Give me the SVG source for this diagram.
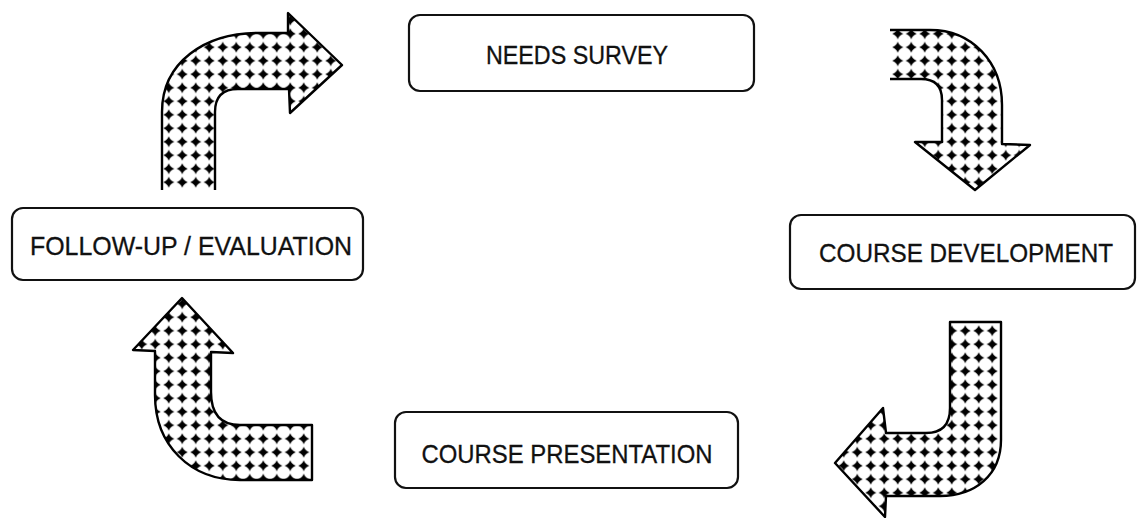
<svg xmlns="http://www.w3.org/2000/svg" width="1137" height="518" viewBox="0 0 1137 518">
<style>
.box{fill:#fff;stroke:#111;stroke-width:2.2}
.lbl{font-family:"Liberation Sans",Arial,sans-serif;font-size:26px;fill:#111;text-anchor:middle;stroke:#111;stroke-width:0.3}
.fill{fill:url(#dots);stroke:none}
.edge{fill:none;stroke:#000;stroke-width:2.4;stroke-linejoin:round}
</style>
<defs>
<pattern id="dots" patternUnits="userSpaceOnUse" width="13.5" height="13.5">
<rect width="13.5" height="13.5" fill="#fff"/>
<path d="M6.75,1.2 Q8.2,5.3 12.3,6.75 Q8.2,8.2 6.75,12.3 Q5.3,8.2 1.2,6.75 Q5.3,5.3 6.75,1.2 Z" fill="#000"/>
</pattern>
</defs>
<rect width="1137" height="518" fill="#fff"/>
<g id="connectors">
<g id="arrow-top-left">
<path class="fill" d="M162,190 L162,112 C162,62 205,33 258,33 L288,33 L288,13 L342,65 L290,113 L289,89 L238,89 Q215,89 215,112 L215,190 Z"/>
<path class="edge" d="M215,190 L215,112 Q215,89 238,89 L289,89 L290,113 L342,65 L288,13 L288,33 L258,33 C205,33 162,62 162,112 L162,190"/>
</g>
<g id="arrow-top-right">
<path class="fill" d="M890,30 L930,30 C972,30 1002,62 1002,105 L1002,144 L1030,145 L975,190 L915,142 L942,142 L942,100 Q942,79 921,79 L890,79 Z"/>
<path class="edge" d="M890,30 L930,30 C972,30 1002,62 1002,105 L1002,144 L1030,145 L975,190 L915,142 L942,142 L942,100 Q942,79 921,79 L890,79"/>
</g>
<g id="arrow-bottom-right">
<path class="fill" d="M950,322 L1001,322 L1001,440 C1001,475 975,496 940,496 L886,496 L885,517 L835,463 L883,408 L886,433 L926,433 Q950,433 950,408 Z"/>
<path class="edge" d="M950,322 L1001,322 L1001,440 C1001,475 975,496 940,496 L886,496 L885,517 L835,463 L883,408 L886,433 L926,433 Q950,433 950,408 Z"/>
</g>
<g id="arrow-bottom-left">
<path class="fill" d="M182,298 L233,353 L211,352 L211,392 Q211,425 240,425 L312,425 L312,480 L240,480 C190,480 155,445 155,395 L155,351 L133,350 Z"/>
<path class="edge" d="M182,298 L233,353 L211,352 L211,392 Q211,425 240,425 L312,425 L312,480 L240,480 C190,480 155,445 155,395 L155,351 L133,350 Z"/>
</g>
</g>
<g id="node-needs-survey">
<rect class="box" x="409" y="15" width="345" height="76" rx="11"/>
<text class="lbl" x="577" y="64" textLength="182" lengthAdjust="spacingAndGlyphs">NEEDS SURVEY</text>
</g>
<g id="node-course-development">
<rect class="box" x="790" y="215" width="345" height="74" rx="11"/>
<text class="lbl" x="966" y="262" textLength="294" lengthAdjust="spacingAndGlyphs">COURSE DEVELOPMENT</text>
</g>
<g id="node-course-presentation">
<rect class="box" x="395" y="412" width="343" height="76" rx="11"/>
<text class="lbl" x="567" y="463" textLength="291" lengthAdjust="spacingAndGlyphs">COURSE PRESENTATION</text>
</g>
<g id="node-follow-up">
<rect class="box" x="12" y="208" width="351" height="72" rx="11"/>
<text class="lbl" x="191" y="255" textLength="322" lengthAdjust="spacingAndGlyphs">FOLLOW-UP / EVALUATION</text>
</g>
</svg>
